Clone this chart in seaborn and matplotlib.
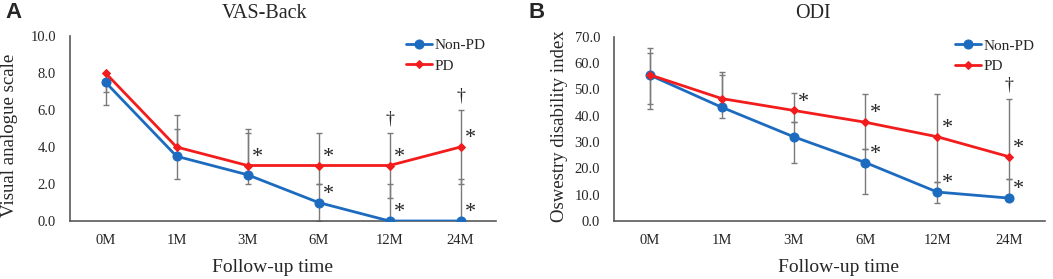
import matplotlib
matplotlib.use("Agg")
import matplotlib.pyplot as plt
import numpy as np
import pandas as pd
import seaborn as sns

# follow-up points
times = ["0M", "1M", "3M", "6M", "12M", "24M"]
groups = ["Non-PD", "PD"]

# VAS-Back (median with lower / upper error bound)
vas_nonpd = [7.5, 3.5, 2.5, 1.0, 0.0, 0.0]
vas_nonpd_lo = [6.25, 2.25, 2.0, 0.0, 0.0, 0.0]
vas_nonpd_hi = [7.5, 5.0, 4.75, 2.0, 2.0, 2.25]
vas_pd = [8.0, 4.0, 3.0, 3.0, 3.0, 4.0]
vas_pd_lo = [7.0, 4.0, 3.0, 2.0, 1.25, 2.0]
vas_pd_hi = [8.0, 5.75, 5.0, 4.75, 4.75, 6.0]
vas_star_nonpd = [False, False, False, True, True, True]
vas_star_pd = [False, False, True, True, True, True]
vas_dagger = [False, False, False, False, True, True]

# ODI
odi_nonpd = [55.4, 43.2, 32.0, 22.2, 11.0, 8.7]
odi_nonpd_lo = [42.4, 39.0, 22.2, 10.1, 6.7, 8.7]
odi_nonpd_hi = [65.6, 55.6, 37.7, 27.2, 14.9, 15.9]
odi_pd = [55.5, 46.5, 42.0, 37.5, 32.0, 24.4]
odi_pd_lo = [44.4, 46.5, 37.7, 27.2, 14.9, 15.9]
odi_pd_hi = [63.9, 56.7, 48.5, 48.2, 48.2, 46.5]
odi_star_nonpd = [False, False, False, True, True, True]
odi_star_pd = [False, False, True, True, True, True]
odi_dagger = [False, False, False, False, False, True]

palette = {"Non-PD": "#1c6bbf", "PD": "#f21c1c"}
markers = {"Non-PD": "o", "PD": "D"}
msize = {"Non-PD": 6.5, "PD": 3.6}

sns.set_style("white")
plt.rcParams["font.family"] = ["Liberation Serif", "DejaVu Serif"]


def draw_panel(ax, nonpd, nonpd_lo, nonpd_hi, pd_v, pd_lo, pd_hi,
               star_nonpd, star_pd, dagger, ymax, ystep):
    x = np.arange(len(times))
    df = pd.DataFrame({
        "x": np.concatenate([x, x]),
        "value": nonpd + pd_v,
        "group": ["Non-PD"] * len(x) + ["PD"] * len(x),
    })
    # error bars (gray, behind the lines)
    for vals, lo, hi in [(nonpd, nonpd_lo, nonpd_hi), (pd_v, pd_lo, pd_hi)]:
        vals = np.array(vals)
        yerr = [vals - np.array(lo), np.array(hi) - vals]
        ax.errorbar(x, vals, yerr=yerr, fmt="none", ecolor="#7a7a7a",
                    elinewidth=1.0, capsize=2.5, capthick=1.0, zorder=1)
    for g in groups:
        sub = df[df["group"] == g]
        sns.lineplot(data=sub, x="x", y="value", ax=ax, color=palette[g],
                     marker=markers[g], markersize=msize[g], lw=2.0,
                     markeredgecolor=palette[g], label=g, zorder=3)
    # significance marks
    for i in range(len(x)):
        if star_pd[i]:
            ax.annotate("*", (x[i], pd_v[i]), xytext=(7, 6), textcoords="offset points",
                        ha="center", va="center", fontsize=16)
        if star_nonpd[i]:
            ax.annotate("*", (x[i], nonpd[i]), xytext=(7, 6), textcoords="offset points",
                        ha="center", va="center", fontsize=16)
        if dagger[i]:
            ax.annotate("\u2020", (x[i], pd_hi[i]), xytext=(0, 10), textcoords="offset points",
                        ha="center", va="center", fontsize=13)

    ax.set_xlim(-0.5, len(times) - 0.5)
    ax.set_ylim(0, ymax)
    ax.set_xticks(np.arange(-0.5, len(times)), labels=[])
    ax.set_xticks(x, minor=True)
    ax.set_xticklabels(times, minor=True, fontsize=10.5)
    ax.tick_params(axis="x", which="major", direction="inout", length=7, width=1, color="#595959")
    ax.tick_params(axis="x", which="minor", length=0, pad=9)
    yt = np.arange(0, ymax + 0.001, ystep)
    ax.set_yticks(yt, labels=[f"{v:.1f}" for v in yt])
    ax.tick_params(axis="y", direction="out", length=5, width=1, color="#595959",
                   labelsize=10.5, pad=5)
    for s in ["top", "right"]:
        ax.spines[s].set_visible(False)
    for s in ["left", "bottom"]:
        ax.spines[s].set_color("#595959")
        ax.spines[s].set_linewidth(1.2)
    ax.set_xlabel("")
    ax.set_ylabel("")
    ax.legend(loc="upper right", bbox_to_anchor=(0.99, 1.02), frameon=False,
              fontsize=11, handlelength=1.7, handletextpad=0.15, labelspacing=0.45,
              borderaxespad=0)


fig = plt.figure(figsize=(10.53, 2.79), dpi=100)
ax1 = fig.add_axes([70 / 1053, 58 / 279, 426 / 1053, 185 / 279])
ax2 = fig.add_axes([614 / 1053, 58 / 279, 431 / 1053, 184.3 / 279])

draw_panel(ax1, vas_nonpd, vas_nonpd_lo, vas_nonpd_hi, vas_pd, vas_pd_lo, vas_pd_hi,
           vas_star_nonpd, vas_star_pd, vas_dagger, 10, 2)
draw_panel(ax2, odi_nonpd, odi_nonpd_lo, odi_nonpd_hi, odi_pd, odi_pd_lo, odi_pd_hi,
           odi_star_nonpd, odi_star_pd, odi_dagger, 70, 10)

# titles, axis labels, panel letters
fig.text(265 / 1053, 1 - 13 / 279, "VAS-Back", ha="center", va="center", fontsize=14.5)
fig.text(813 / 1053, 1 - 13 / 279, "ODI", ha="center", va="center", fontsize=14.5)
fig.text(273 / 1053, 1 - 268 / 279, "Follow-up time", ha="center", va="center", fontsize=14)
fig.text(838 / 1053, 1 - 268 / 279, "Follow-up time", ha="center", va="center", fontsize=14)
fig.text(10 / 1053, 1 - 135 / 279, "Visual analogue scale", ha="center", va="center",
         rotation=90, fontsize=13.6)
fig.text(559 / 1053, 1 - 126 / 279, "Oswestry disability index", ha="center", va="center",
         rotation=90, fontsize=13.5)
fig.text(5 / 1053, 1 - 13 / 279, "A", ha="left", va="center", fontsize=16,
         fontweight="bold", family=["Liberation Sans", "DejaVu Sans"])
fig.text(529 / 1053, 1 - 13 / 279, "B", ha="left", va="center", fontsize=16,
         fontweight="bold", family=["Liberation Sans", "DejaVu Sans"])

fig.savefig("out.png", dpi=100)
